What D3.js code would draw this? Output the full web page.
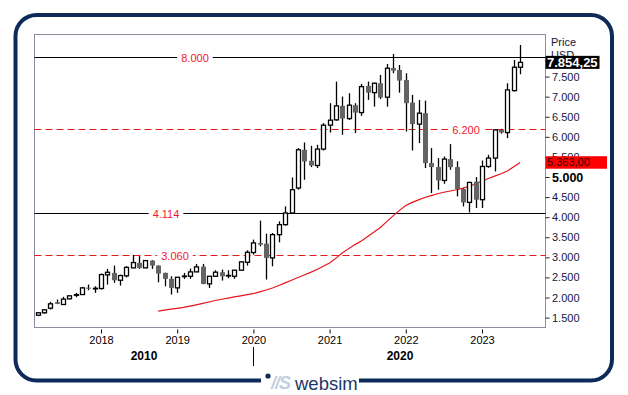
<!DOCTYPE html>
<html><head><meta charset="utf-8">
<script src="https://cdn.jsdelivr.net/npm/d3@7"></script>
<style>
body{margin:0;background:#fff}
svg{display:block}
text{font-family:"Liberation Sans",Arial,sans-serif}
</style>
</head><body>
<svg id="c" width="628" height="395"></svg>
<script>
// ---------- DATA ----------
const months = ["2017-03","2017-04","2017-05","2017-06","2017-07","2017-08","2017-09","2017-10","2017-11","2017-12",
"2018-01","2018-02","2018-03","2018-04","2018-05","2018-06","2018-07","2018-08","2018-09","2018-10","2018-11","2018-12",
"2019-01","2019-02","2019-03","2019-04","2019-05","2019-06","2019-07","2019-08","2019-09","2019-10","2019-11","2019-12",
"2020-01","2020-02","2020-03","2020-04","2020-05","2020-06","2020-07","2020-08","2020-09","2020-10","2020-11","2020-12",
"2021-01","2021-02","2021-03","2021-04","2021-05","2021-06","2021-07","2021-08","2021-09","2021-10","2021-11","2021-12",
"2022-01","2022-02","2022-03","2022-04","2022-05","2022-06","2022-07","2022-08","2022-09","2022-10","2022-11","2022-12",
"2023-01","2023-02","2023-03","2023-04","2023-05","2023-06","2023-07"];
const open  = [1560,1620,1734,1883,1826,1967,2060,2074,2245,2215,
2224,2564,2613,2430,2540,2738,2862,2738,2919,2795,2613,2464,
2240,2520,2529,2638,2770,2340,2529,2630,2540,2529,2680,2877,
3120,3359,3341,2986,3565,3814,4104,4726,5677,5404,5287,5695,
6291,6423,6771,6455,6788,6604,7268,7101,7334,6987,7715,7665,
7417,6853,6316,6589,5347,5247,4915,5446,5247,4700,4368,4882,
4435,5262,5471,6174,6107,7151,7733];
const high  = [1625,1700,1893,1950,2017,2050,2116,2265,2323,2280,
2596,2713,2795,2571,2780,3060,3030,2930,2930,2800,2620,2529,
2510,2613,2720,2837,2837,2535,2680,2696,2680,2690,2900,3175,
3441,3913,3590,3607,3896,4268,4989,5720,5859,5777,5801,6341,
6838,7375,7003,7086,6838,7317,7375,7350,7541,7814,8063,7790,
7583,7044,6920,6900,5720,5471,5511,5819,5390,4720,4880,4999,
5411,5553,6190,6200,7334,7914,8287];
const low   = [1535,1600,1701,1835,1820,1955,2007,2070,2180,2116,
2198,2323,2365,2298,2500,2730,2713,2730,2713,2380,2280,2074,
2116,2464,2464,2630,2330,2240,2520,2422,2480,2464,2670,2795,
3068,3274,2447,2777,3374,3789,4100,4683,4932,5247,5223,5660,
6107,6400,6050,6420,6092,6522,6920,6753,6940,6753,7583,7100,
6133,5660,5844,5223,4601,4683,4832,5180,4517,4268,4119,4229,
4229,5230,5138,6080,5968,7126,7559];
const close = [1620,1694,1843,1843,1960,2042,2070,2240,2220,2230,
2571,2628,2430,2546,2750,2870,2738,2919,2795,2596,2464,2240,
2504,2535,2638,2762,2340,2529,2630,2529,2550,2680,2887,3126,
3359,3317,2986,3565,3814,4104,4683,5677,5387,5287,5695,6291,
6415,6771,6455,6788,6604,7250,7101,7334,6977,7708,7648,7400,
6838,6316,6589,5347,5247,4915,5446,5247,4700,4368,4865,4435,
5262,5471,6174,6107,7168,7733,7854.25];
const movingAvg = [null,null,null,null,null,null,null,null,null,null,
null,null,null,null,null,null,null,null,null,1659,1684,1709,
1731,1756,1786,1818,1853,1888,1925,1957,1985,2014,2042,2072,
2099,2141,2186,2238,2300,2365,2430,2497,2561,2626,2698,2777,
2857,2981,3108,3217,3317,3409,3520,3632,3742,3888,4032,4169,
4293,4368,4430,4490,4537,4584,4621,4651,4683,4723,4770,4832,
4897,4962,5021,5081,5151,5255,5363];
const yearTicks = ["2018-01","2019-01","2020-01","2021-01","2022-01","2023-01"];
const priceTicks = [1500,2000,2500,3000,3500,4000,4500,5000,5500,6000,6500,7000,7500];
const levelValues = [8000,6200,4114,3060];
const levelLabels = ["8.000","6.200","4.114","3.060"];
const lastPrice = 7854.25;
const lastAvg = 5363.00;
const eraLabels = ["2010","2020"];

// ---------- LAYOUT ----------
const svg = d3.select("#c");
const P = {l:34.5, r:545.5, t:34.5, b:327.5};
const x = d3.scalePoint().domain(months).range([37.5, 520.1]);
const y = d3.scaleLinear().domain([1500, 8000]).range([317.6, 56.5]);
const fmtDE = v => d3.format(",.0f")(v).replace(/,/g, ".");
const fmtDE2 = v => { const s = d3.format(",.2f")(v); return s.replace(/,/g,"#").replace(".",",").replace(/#/g,"."); };

// frame
svg.append("rect").attr("x",15.5).attr("y",15).attr("width",596.5).attr("height",365.5)
  .attr("rx",21).attr("fill","#fff").attr("stroke","#0d2a59").attr("stroke-width",4);

// plot border
svg.append("rect").attr("x",P.l).attr("y",P.t).attr("width",P.r-P.l).attr("height",P.b-P.t)
  .attr("fill","#fff").attr("stroke","#8c8c9c").attr("stroke-width",1);

// level lines
const levelStyle = [
  {dash:null, color:"#000", lx:195},
  {dash:"7,4", color:"#e21b1b", lx:466},
  {dash:null, color:"#000", lx:166},
  {dash:"7,4", color:"#e21b1b", lx:175}
];
levelValues.forEach((v,i) => {
  const yy = Math.round(y(v)) + 0.5;
  svg.append("line").attr("x1",P.l).attr("x2",P.r).attr("y1",yy).attr("y2",yy)
    .attr("stroke",levelStyle[i].color).attr("stroke-width",1.2)
    .attr("stroke-dasharray",levelStyle[i].dash);
  const t = svg.append("text").attr("x",levelStyle[i].lx).attr("y",yy+4)
    .attr("text-anchor","middle").attr("font-size",11).attr("fill","#f0182c").text(levelLabels[i]);
  const bb = t.node().getBBox();
  svg.insert("rect", () => t.node()).attr("x",bb.x-4).attr("y",yy-3).attr("width",bb.width+8).attr("height",6).attr("fill","#fff");
});

// moving average
const maData = months.map((m,i)=>({m, v:movingAvg[i]})).filter(d=>d.v!=null);
svg.append("path").datum(maData)
  .attr("d", d3.line().x(d=>x(d.m)).y(d=>y(d.v)))
  .attr("fill","none").attr("stroke","#e8141a").attr("stroke-width",1.2);

// candles
const candles = months.map((m,i)=>({m, o:open[i], h:high[i], l:low[i], c:close[i]}));
const g = svg.append("g");
g.selectAll("line.wick").data(candles).join("line")
  .attr("x1",d=>Math.round(x(d.m))+0.5).attr("x2",d=>Math.round(x(d.m))+0.5)
  .attr("y1",d=>y(d.h)).attr("y2",d=>y(d.l))
  .attr("stroke","#000").attr("stroke-width",1.3);
g.selectAll("rect.body").data(candles).join("rect")
  .attr("x",d=> d.c>=d.o ? Math.round(x(d.m))-1.5 : Math.round(x(d.m))-2)
  .attr("width",d=> d.c>=d.o ? 4 : 5)
  .attr("y",d=>y(Math.max(d.o,d.c)))
  .attr("height",d=>Math.max(0.6, Math.abs(y(d.o)-y(d.c))))
  .attr("fill",d=> d.c>=d.o ? "#fff" : "#646464")
  .attr("stroke",d=> d.c>=d.o ? "#000" : "none")
  .attr("stroke-width",1.3);

// right axis
const ya = svg.append("g").attr("transform",`translate(${P.r},0)`)
  .call(d3.axisRight(y).tickValues(priceTicks).tickSize(4).tickPadding(2.5).tickFormat(fmtDE));
ya.select(".domain").remove();
ya.selectAll(".tick line").attr("stroke","#222");
ya.selectAll(".tick text").attr("fill","#16163e").attr("font-size",11)
  .attr("font-family","'Liberation Sans',Arial,sans-serif");
ya.selectAll(".tick").filter(d=>d===5000).select("text").attr("font-weight","bold").attr("font-size",12.5).attr("fill","#000");

svg.append("text").attr("x",551).attr("y",45.5).attr("font-size",11).attr("fill","#16163e").text("Price");
svg.append("text").attr("x",551).attr("y",59).attr("font-size",11).attr("fill","#16163e").text("USD");

// last price boxes
const yl = y(lastPrice);
svg.append("rect").attr("x",545.5).attr("y",yl-6.5).attr("width",54).attr("height",13).attr("fill","#000");
svg.append("text").attr("x",547).attr("y",yl+4.7).attr("font-size",13).attr("font-weight","bold").attr("fill","#fff").text(fmtDE2(lastPrice));
const ym = y(lastAvg);
svg.append("rect").attr("x",545.5).attr("y",ym-6.2).attr("width",61.5).attr("height",12.5).attr("fill","#ff0000");
svg.append("text").attr("x",547).attr("y",ym+4).attr("font-size",11).attr("fill","#3a0000").text(fmtDE2(lastAvg));

// bottom axis
const xa = svg.append("g").attr("transform",`translate(0,${P.b+2})`)
  .call(d3.axisBottom(x).tickValues(yearTicks).tickSize(4).tickPadding(3).tickFormat(d=>d.slice(0,4)));
xa.select(".domain").remove();
xa.selectAll(".tick line").attr("stroke","#000");
xa.selectAll(".tick text").attr("fill","#000").attr("font-size",11)
  .attr("font-family","'Liberation Sans',Arial,sans-serif");

// era labels
svg.append("text").attr("x",144).attr("y",360).attr("text-anchor","middle").attr("font-size",12).attr("font-weight","bold").text(eraLabels[0]);
svg.append("text").attr("x",400).attr("y",360).attr("text-anchor","middle").attr("font-size",12).attr("font-weight","bold").text(eraLabels[1]);
const xs = Math.round(x("2020-01"))+0.5;
svg.append("line").attr("x1",xs).attr("x2",xs).attr("y1",347).attr("y2",366).attr("stroke","#000").attr("stroke-width",1);

// logo
svg.append("rect").attr("x",261).attr("y",370).attr("width",98).attr("height",22).attr("fill","#fff");
svg.append("circle").attr("cx",268).attr("cy",376).attr("r",2.6).attr("fill","#0d2a59");
svg.append("text").attr("x",271).attr("y",389).attr("font-size",18).attr("font-weight","bold").attr("font-style","italic")
  .attr("fill","#c3cfdf").attr("letter-spacing",-1).text("//S");
svg.append("text").attr("x",295).attr("y",390).attr("font-size",18.5).attr("fill","#1c3766").text("websim");
</script>
</body></html>
